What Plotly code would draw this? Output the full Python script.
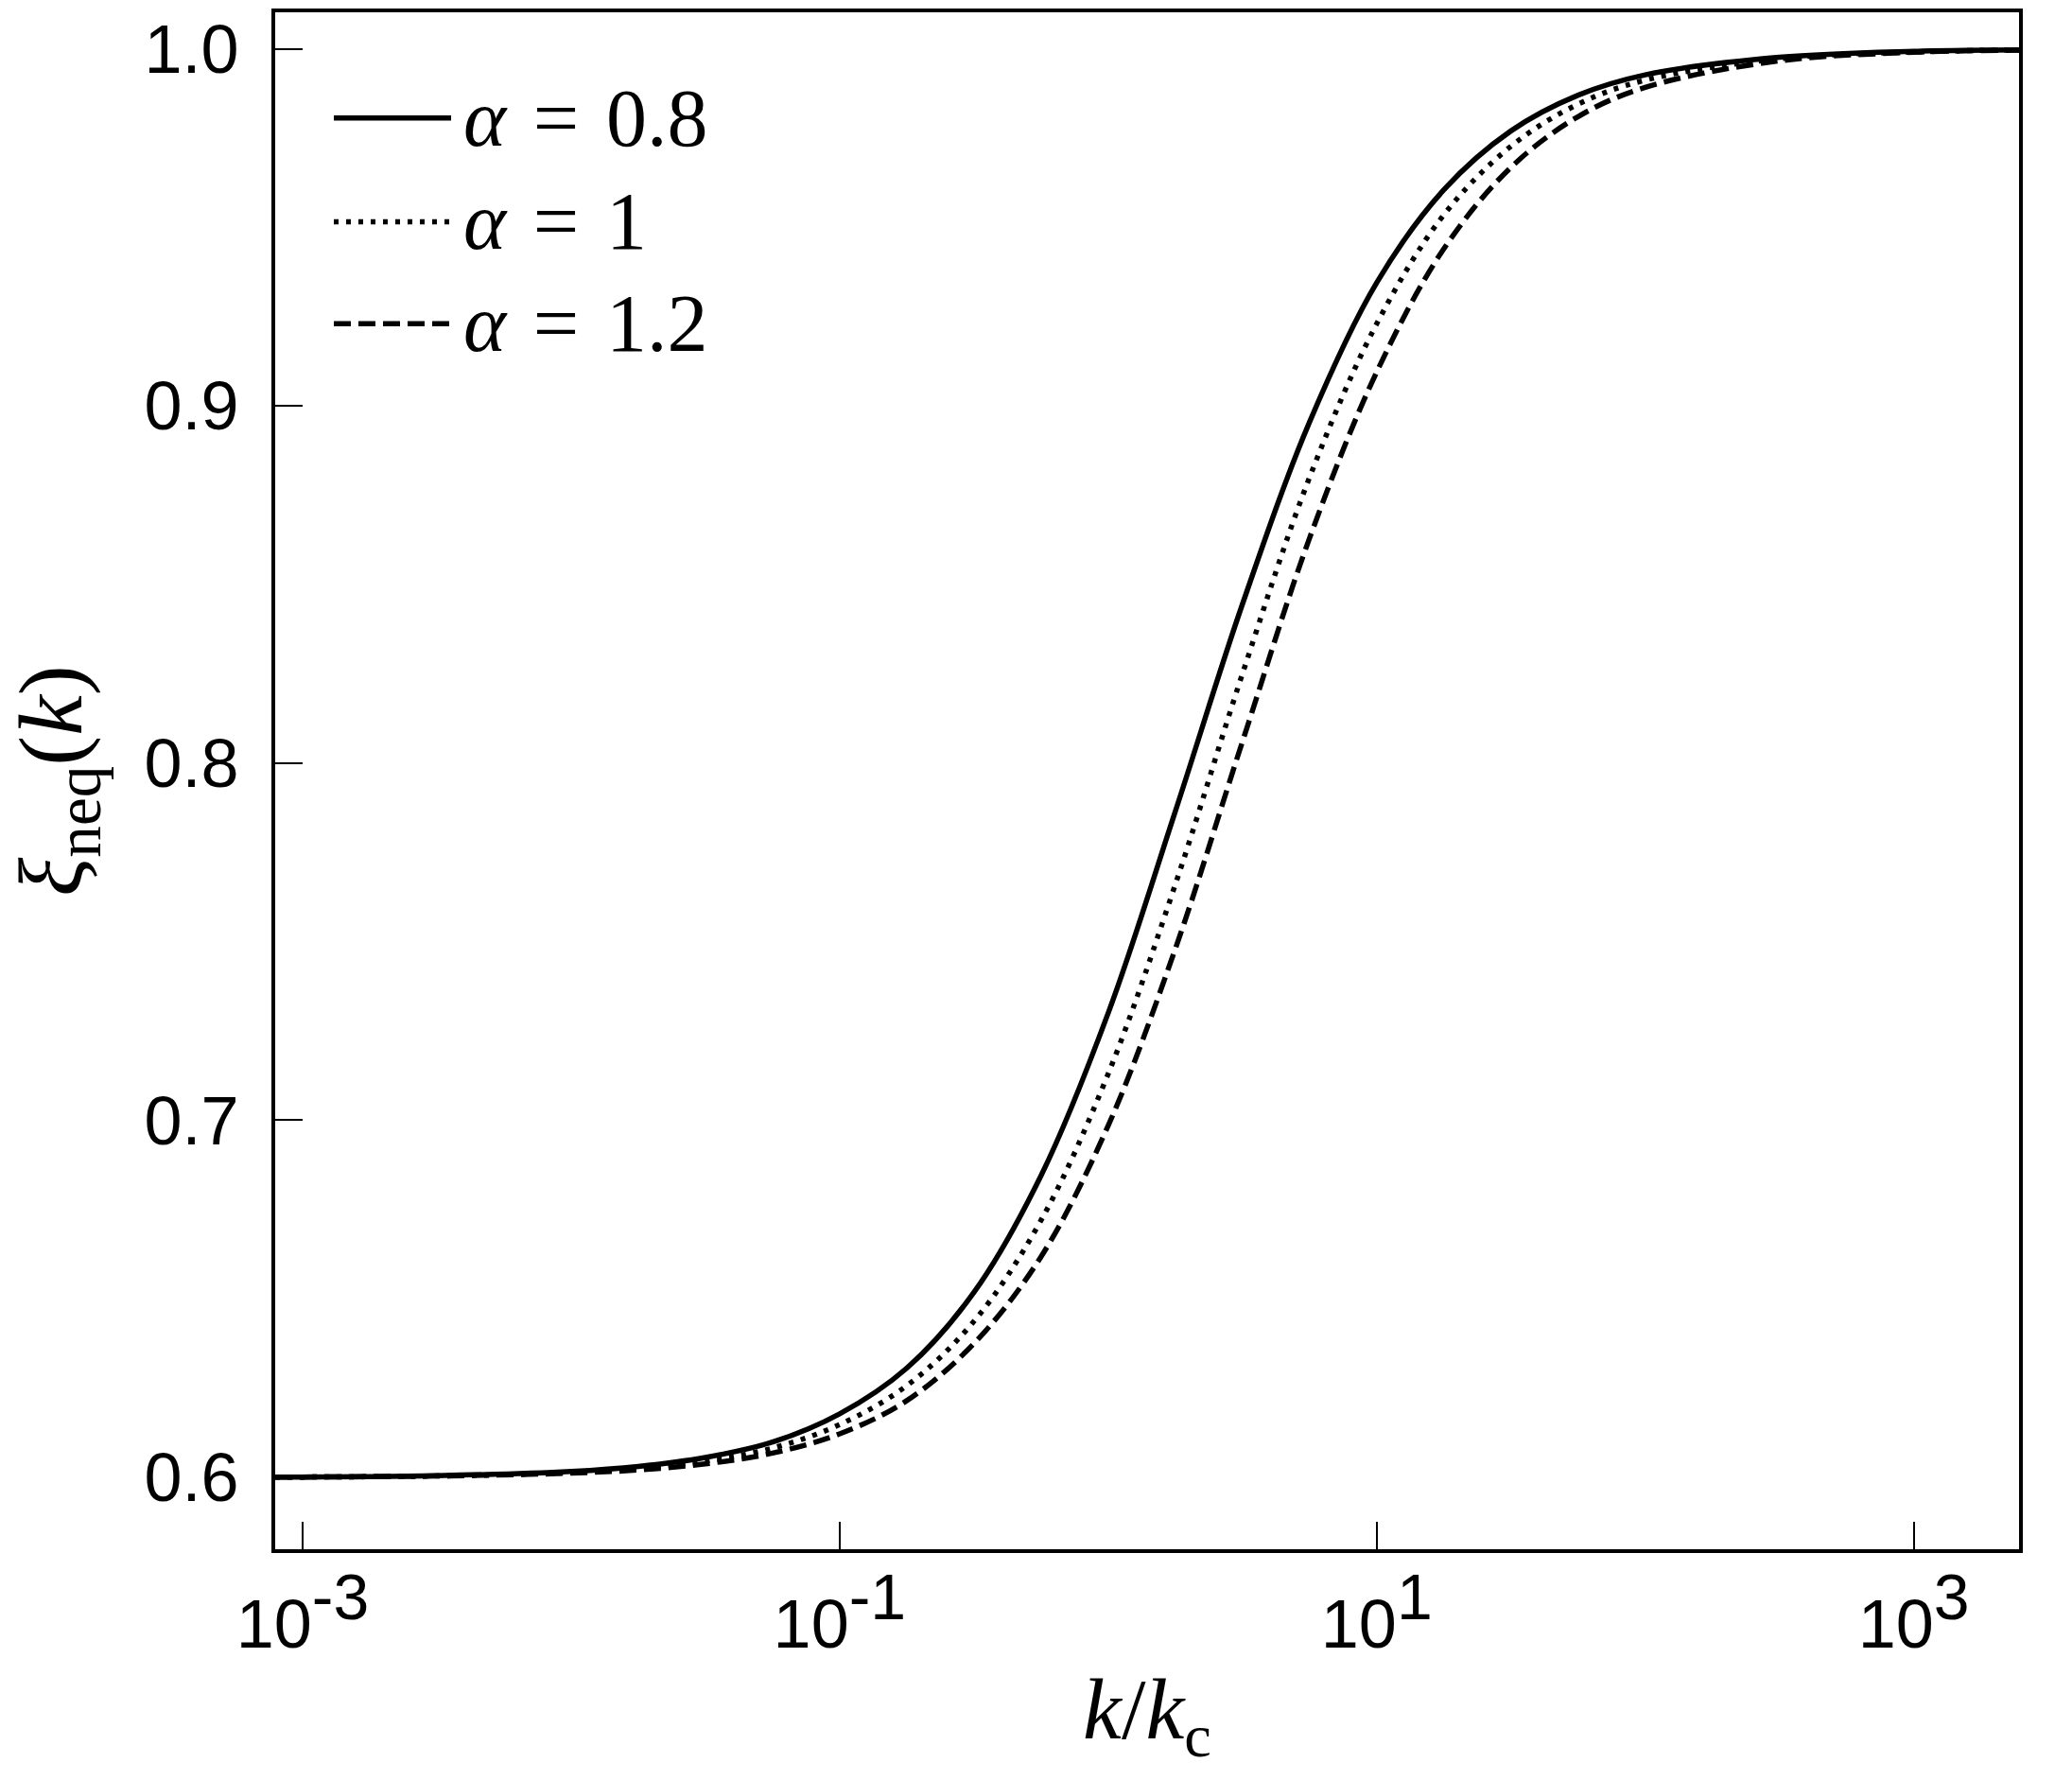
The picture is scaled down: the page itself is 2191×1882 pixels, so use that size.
import plotly.graph_objects as go

# ---- data ----
log_k = [-3.102, -2.5, -2.0, -1.75, -1.5, -1.25, -1.0, -0.75, -0.5, -0.25, 0.0,
         0.25, 0.5, 0.75, 1.0, 1.25, 1.5, 1.75, 2.0, 2.5, 3.0, 3.392]
xi_alpha_08 = [0.6001, 0.6005, 0.6017, 0.6031, 0.6056, 0.6099, 0.6178, 0.6306,
               0.6518, 0.6845, 0.7300, 0.7865, 0.8445, 0.8955, 0.9345, 0.9605,
               0.9770, 0.9870, 0.9927, 0.9976, 0.9993, 0.9997]
xi_alpha_10 = [0.6001, 0.6004, 0.6014, 0.6026, 0.6046, 0.6082, 0.6148, 0.6257,
               0.6437, 0.6720, 0.7130, 0.7660, 0.8250, 0.8800, 0.9230, 0.9535,
               0.9727, 0.9845, 0.9912, 0.9972, 0.9991, 0.9997]
xi_alpha_12 = [0.6001, 0.6004, 0.6012, 0.6021, 0.6038, 0.6068, 0.6122, 0.6215,
               0.6375, 0.6618, 0.6985, 0.7480, 0.8060, 0.8630, 0.9095, 0.9440,
               0.9668, 0.9810, 0.9892, 0.9966, 0.9990, 0.9996]
series_names = ["α = 0.8", "α = 1", "α = 1.2"]
y_tickvals = [0.6, 0.7, 0.8, 0.9, 1.0]
y_ticktext = ["0.6", "0.7", "0.8", "0.9", "1.0"]
x_tickvals = [1e-3, 1e-1, 1e1, 1e3]
x_exponents = ["-3", "-1", "1", "3"]

k = [10 ** v for v in log_k]
series = [xi_alpha_08, xi_alpha_10, xi_alpha_12]
dashes = ["solid", "5px,8px", "18px,8px"]

W, H = 2191, 1882
L, R, T, B = 291, 56, 9, 244
pw, ph = W - L - R, H - T - B

fig = go.Figure()
for name, ys, d in zip(series_names, series, dashes):
    fig.add_trace(go.Scatter(x=k, y=ys, mode="lines", name=name,
                             line=dict(color="black", width=5.5, dash=d,
                                       shape="spline", smoothing=1.0),
                             showlegend=False))

# manual legend (long line samples as in the reference)
leg_rows = [121, 231, 339]
for name, d, py in zip(series_names, dashes, leg_rows):
    yp = (H - B - py) / ph
    fig.add_shape(type="line", xref="paper", yref="paper",
                  x0=(353 - L) / pw, x1=(477 - L) / pw, y0=yp, y1=yp,
                  line=dict(color="black", width=5.5, dash=d))
    label = name.replace("α", "<i>α</i>").replace(" ", "\u2004")
    fig.add_annotation(xref="paper", yref="paper", x=(488 - L) / pw, y=yp,
                       xanchor="left", yanchor="middle", showarrow=False,
                       text=label,
                       font=dict(family="Liberation Serif", size=86, color="black"))

x_ticktext = ["10<sup><span style='font-size:68px'>%s</span></sup>" % e for e in x_exponents]

fig.update_layout(
    width=W, height=H,
    margin=dict(l=L, r=R, t=T, b=B),
    paper_bgcolor="white", plot_bgcolor="white",
    font=dict(family="Liberation Sans, Arial, sans-serif", color="black", size=72),
    xaxis=dict(type="log", range=[-3.102, 3.392],
               tickvals=x_tickvals, ticktext=x_ticktext,
               ticks="inside", ticklen=29, tickwidth=2, tickcolor="black",
               showline=True, linewidth=4, linecolor="black", mirror=True,
               showgrid=False, zeroline=False,
               tickfont=dict(family="Liberation Sans, Arial, sans-serif", size=72),
               ticklabelstandoff=14,
               title=dict(text="<i>k</i>/<i>k</i><sub>c</sub>",
                          font=dict(family="Liberation Serif", size=92),
                          standoff=18)),
    yaxis=dict(range=[0.5799, 1.0102],
               tickvals=y_tickvals, ticktext=y_ticktext,
               ticks="inside", ticklen=29, tickwidth=2, tickcolor="black",
               showline=True, linewidth=4, linecolor="black", mirror=True,
               showgrid=False, zeroline=False,
               tickfont=dict(family="Liberation Sans, Arial, sans-serif", size=72),
               ticklabelstandoff=20,
               title=dict(text="<i>ξ</i><sub>neq</sub>(<i>k</i>)",
                          font=dict(family="Liberation Serif", size=96),
                          standoff=52)),
)

fig.write_html("out.html")
